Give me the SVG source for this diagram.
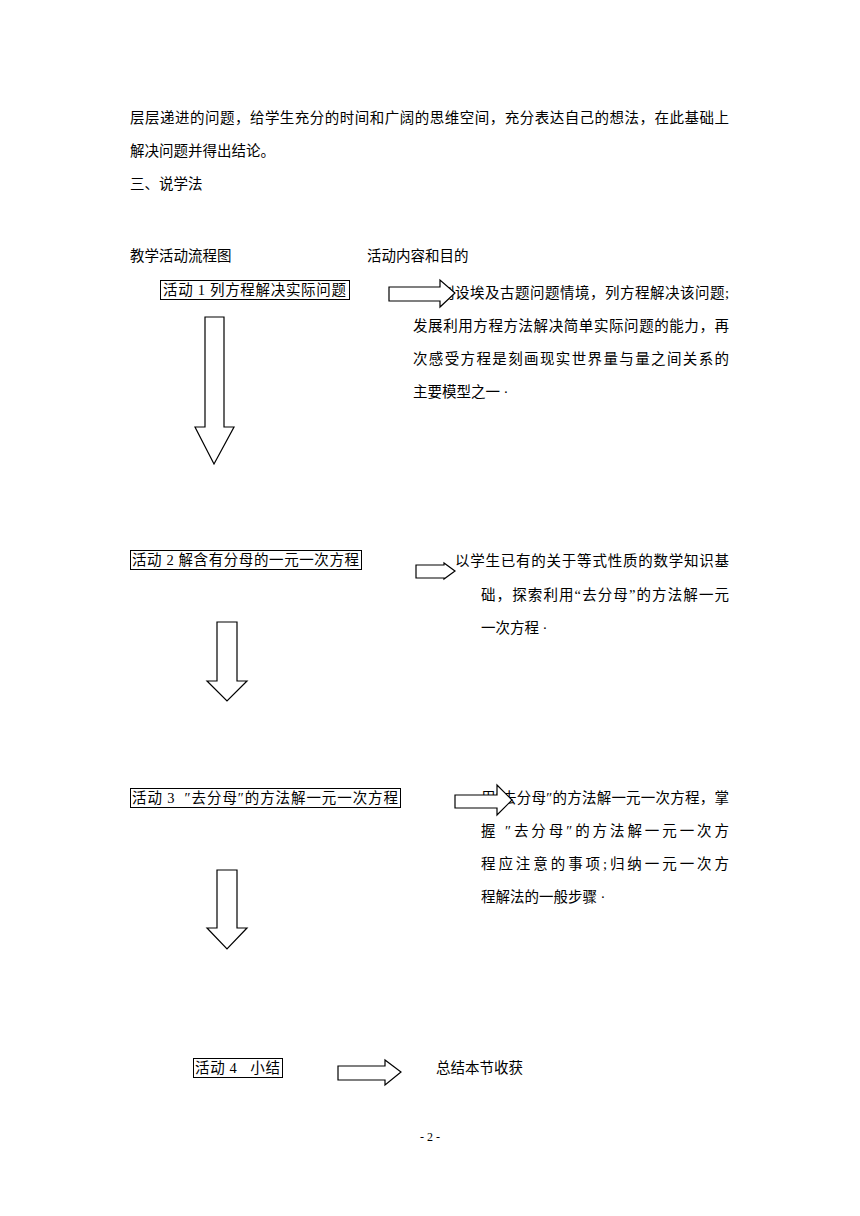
<svg xmlns="http://www.w3.org/2000/svg" width="860" height="1216" viewBox="0 0 860 1216">
<style>
text{font-family:"Liberation Serif","Noto Sans CJK SC",serif;font-size:14.5px;fill:#000}
.box{fill:#fff;stroke:#000;stroke-width:1}
.arr{fill:#fff;stroke:#000;stroke-width:1.2;stroke-linejoin:miter}
.pg{font-size:12px}
</style>
<rect width="860" height="1216" fill="#fff"/>
<g id="intro">
<text x="130" y="123" textLength="599" lengthAdjust="spacing">层层递进的问题，给学生充分的时间和广阔的思维空间，充分表达自己的想法，在此基础上</text>
<text x="130" y="156">解决问题并得出结论。</text>
<text x="130" y="189">三、说学法</text>
<text x="130" y="261">教学活动流程图</text>
<text x="367" y="261">活动内容和目的</text>
</g>
<g id="desc1">
<text x="440" y="298" textLength="289" lengthAdjust="spacing">创设埃及古题问题情境，列方程解决该问题;</text>
<text x="413" y="331" textLength="316" lengthAdjust="spacing">发展利用方程方法解决简单实际问题的能力，再</text>
<text x="413" y="364" textLength="316" lengthAdjust="spacing">次感受方程是刻画现实世界量与量之间关系的</text>
<text x="413" y="397" xml:space="preserve">主要模型之一 ·</text>
</g>
<g id="desc2">
<text x="455" y="566" textLength="274" lengthAdjust="spacing">以学生已有的关于等式性质的数学知识基</text>
<text x="481" y="600" textLength="248" lengthAdjust="spacing">础，探索利用“去分母”的方法解一元</text>
<text x="481" y="633" xml:space="preserve">一次方程 ·</text>
</g>
<g id="desc3">
<text x="481" y="803" textLength="248" lengthAdjust="spacing">用″去分母″的方法解一元一次方程，掌</text>
<text x="481" y="836" textLength="248" lengthAdjust="spacing">握 ″去分母″的方法解一元一次方</text>
<text x="481" y="869" textLength="248" lengthAdjust="spacing">程应注意的事项;归纳一元一次方</text>
<text x="481" y="902" xml:space="preserve">程解法的一般步骤 ·</text>
</g>
<g id="desc4">
<text x="436" y="1073">总结本节收获</text>
</g>
<g id="node1">
<rect class="box" x="160.5" y="280.5" width="189" height="19"/>
<text x="163" y="295" textLength="183" lengthAdjust="spacing">活动 1 列方程解决实际问题</text>
</g>
<g id="node2">
<rect class="box" x="130.5" y="550.5" width="231" height="19"/>
<text x="132" y="565" textLength="227" lengthAdjust="spacing">活动 2 解含有分母的一元一次方程</text>
</g>
<g id="node3">
<rect class="box" x="130.5" y="788.5" width="270" height="19"/>
<text x="132" y="803" xml:space="preserve" textLength="266" lengthAdjust="spacing">活动 3  ″去分母″的方法解一元一次方程</text>
</g>
<g id="node4">
<rect class="box" x="193.5" y="1058.5" width="89" height="19"/>
<text x="195" y="1073" xml:space="preserve" textLength="85" lengthAdjust="spacing">活动 4   小结</text>
</g>
<g id="connectors">
<path class="arr" d="M205,317 H224 V427 H234 L214,464 L195,427 H205 Z"/>
<path class="arr" d="M217,622 H237 V681 H247 L227,701 L207,681 H217 Z"/>
<path class="arr" d="M217,870 H237 V928 H247 L227,949 L207,928 H217 Z"/>
<path class="arr" d="M389,287 H440 V280 L455,293 L440,307 V301 H389 Z"/>
<path class="arr" d="M416,565 H444 V563 L455,571 L444,579 V578 H416 Z"/>
<path class="arr" d="M455,795 H497 V785 L512,800 L497,815 V808 H455 Z"/>
<path class="arr" d="M338,1066 H385 V1060 L401,1072 L385,1085 V1080 H338 Z"/>
</g>
<g id="page">
<text class="pg" x="430" y="1141" text-anchor="middle">- 2 -</text>
</g>
</svg>
